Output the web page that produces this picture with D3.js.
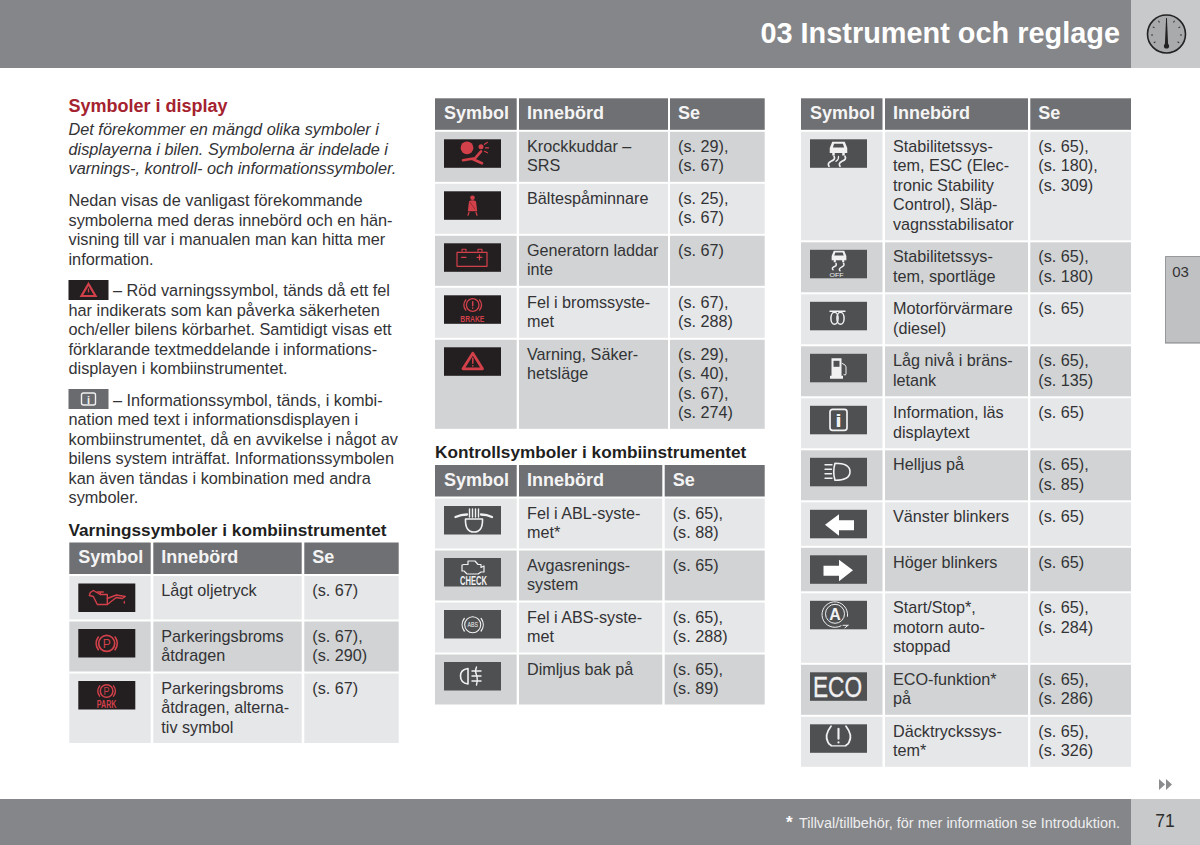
<!DOCTYPE html>
<html>
<head>
<meta charset="utf-8">
<script src="https://d3js.org/d3.v7.min.js"></script>
<style>
  html, body { margin: 0; padding: 0; background: #fff; }
  svg { display: block; }
  text { font-family: "Liberation Sans", Arial, sans-serif; }
</style>
</head>
<body>
<svg id="page" width="1200" height="845"></svg>
<script>
// page text
const introHead = 'Symboler i display';
const introItalic = ['Det förekommer en mängd olika symboler i', 'displayerna i bilen. Symbolerna är indelade i', 'varnings-, kontroll- och informationssymboler.'];
const introBody = ['Nedan visas de vanligast förekommande', 'symbolerna med deras innebörd och en hän-', 'visning till var i manualen man kan hitta mer', 'information.'];
const redPara = ['– Röd varningssymbol, tänds då ett fel', 'har indikerats som kan påverka säkerheten', 'och/eller bilens körbarhet. Samtidigt visas ett', 'förklarande textmeddelande i informations-', 'displayen i kombiinstrumentet.'];
const infoPara = ['– Informationssymbol, tänds, i kombi-', 'nation med text i informationsdisplayen i', 'kombiinstrumentet, då en avvikelse i något av', 'bilens system inträffat. Informationssymbolen', 'kan även tändas i kombination med andra', 'symboler.'];
const warnTitle = 'Varningssymboler i kombiinstrumentet';
const ctrlTitle = 'Kontrollsymboler i kombiinstrumentet';
const columnHeads = ['Symbol', 'Innebörd', 'Se'];

// left table
const warnIcons = ['oil', 'parkBrake', 'parkAlt'];
const warnMeaning = [['Lågt oljetryck'], ['Parkeringsbroms', 'åtdragen'], ['Parkeringsbroms', 'åtdragen, alterna-', 'tiv symbol']];
const warnPages = [['(s. 67)'], ['(s. 67),', '(s. 290)'], ['(s. 67)']];

// middle table, top
const redIcons = ['airbag', 'belt', 'battery', 'brake', 'triangle'];
const redMeaning = [['Krockkuddar –', 'SRS'], ['Bältespåminnare'], ['Generatorn laddar', 'inte'], ['Fel i bromssyste-', 'met'], ['Varning, Säker-', 'hetsläge']];
const redPages = [['(s. 29),', '(s. 67)'], ['(s. 25),', '(s. 67)'], ['(s. 67)'], ['(s. 67),', '(s. 288)'], ['(s. 29),', '(s. 40),', '(s. 67),', '(s. 274)']];

// middle table, bottom
const ctrlIcons = ['abl', 'check', 'abs', 'fog'];
const ctrlMeaning = [['Fel i ABL-syste-', 'met*'], ['Avgasrenings-', 'system'], ['Fel i ABS-syste-', 'met'], ['Dimljus bak på']];
const ctrlPages = [['(s. 65),', '(s. 88)'], ['(s. 65)'], ['(s. 65),', '(s. 288)'], ['(s. 65),', '(s. 89)']];

// right table
const miscIcons = ['esc', 'escOff', 'glow', 'fuel', 'info', 'highBeam', 'left', 'right', 'startStop', 'eco', 'tyre'];
const miscMeaning = [['Stabilitetssys-', 'tem, ESC (Elec-', 'tronic Stability', 'Control), Släp-', 'vagnsstabilisator'], ['Stabilitetssys-', 'tem, sportläge'], ['Motorförvärmare', '(diesel)'], ['Låg nivå i bräns-', 'letank'], ['Information, läs', 'displaytext'], ['Helljus på'], ['Vänster blinkers'], ['Höger blinkers'], ['Start/Stop*,', 'motorn auto-', 'stoppad'], ['ECO-funktion*', 'på'], ['Däcktryckssys-', 'tem*']];
const miscPages = [['(s. 65),', '(s. 180),', '(s. 309)'], ['(s. 65),', '(s. 180)'], ['(s. 65)'], ['(s. 65),', '(s. 135)'], ['(s. 65)'], ['(s. 65),', '(s. 85)'], ['(s. 65)'], ['(s. 65)'], ['(s. 65),', '(s. 284)'], ['(s. 65),', '(s. 286)'], ['(s. 65),', '(s. 326)']];

const barDark = '#858689';
const barLight = '#c8c9cb';
const headFill = '#6f7073';
const rowLight = '#e6e7e8';
const rowDark = '#d1d3d4';
const ink = '#333336';
const red = '#d2404a';
const iconBlack = '#231f20';
const iconGrey = '#4f5052';
const white = '#f1f1f2';
const lineH = 19.5;
const bodySize = 16.3;
const cellSize = 16.2;

const svg = d3.select('#page');

// row pitch follows the number of text lines, one-liners stop at icon height
const rowPitch = d3.scaleLinear().domain([2, 5]).range([52, 110.5]);
const pitchOf = n => Math.max(45.5, rowPitch(n));

function textLines(parent, lines, x, y, opts = {}) {
    parent.selectAll(null)
        .data(lines)
        .enter()
        .append('text')
        .attr('x', (d, i) => i === 0 && opts.firstX ? opts.firstX : x)
        .attr('y', (d, i) => y + i * lineH)
        .attr('fill', opts.fill || ink)
        .attr('font-size', opts.size || bodySize)
        .attr('font-style', opts.italic ? 'italic' : null)
        .text(d => d);
}

// bars at top and bottom
svg.append('rect').attr('x', 0).attr('y', 0).attr('width', 1131).attr('height', 68).attr('fill', barDark);
svg.append('rect').attr('x', 1131).attr('y', 0).attr('width', 69).attr('height', 68).attr('fill', barLight);
svg.append('rect').attr('x', 0).attr('y', 799).attr('width', 1131).attr('height', 46).attr('fill', barDark);
svg.append('rect').attr('x', 1131).attr('y', 799).attr('width', 69).attr('height', 46).attr('fill', barLight);

svg.append('text')
    .attr('x', 1120).attr('y', 42.5)
    .attr('text-anchor', 'end')
    .attr('font-size', 28.9).attr('font-weight', 'bold')
    .attr('fill', '#fff')
    .text('03 Instrument och reglage');

// gauge in the corner
const gauge = svg.append('g').attr('transform', 'translate(1166.5,34)');
gauge.append('circle').attr('r', 19).attr('fill', '#a9aaac').attr('stroke', '#222').attr('stroke-width', 1.6);
const tickAngle = d3.scaleLinear().domain([0, 8]).range([-125, 125]);
gauge.selectAll('line.tick')
    .data(d3.range(9))
    .enter()
    .append('line')
    .attr('y1', -15.5).attr('y2', -13.5)
    .attr('stroke', '#333').attr('stroke-width', 1)
    .attr('transform', d => `rotate(${tickAngle(d)})`);
gauge.append('path').attr('d', 'M-0.4,-16L0.4,-16L1.6,10L-1.6,10Z').attr('fill', '#222');
gauge.append('circle').attr('cy', 12).attr('r', 2.6).attr('fill', '#222');

// footer
svg.append('text')
    .attr('x', 1120).attr('y', 827.5)
    .attr('text-anchor', 'end')
    .attr('font-size', 14.4)
    .attr('fill', '#eeeeef')
    .text('Tillval/tillbehör, för mer information se Introduktion.');
svg.append('text')
    .attr('x', 786).attr('y', 828)
    .attr('font-size', 17).attr('font-weight', 'bold')
    .attr('fill', '#fff')
    .text('*');
svg.append('text')
    .attr('x', 1165).attr('y', 827)
    .attr('text-anchor', 'middle')
    .attr('font-size', 17.5)
    .attr('fill', '#2e2e2e')
    .text('71');
svg.selectAll('path.more')
    .data([1159, 1166])
    .enter()
    .append('path')
    .attr('d', d => `M${d},779l6,5.5l-6,5.5Z`)
    .attr('fill', '#8a8c8e');

// chapter tab
svg.append('rect').attr('x', 1165).attr('y', 256).attr('width', 35).attr('height', 87).attr('fill', '#c0c1c3');
svg.append('path').attr('d', 'M1200,256.5H1165.5V343').attr('fill', 'none').attr('stroke', '#97989a').attr('stroke-width', 1);
svg.append('path').attr('d', 'M1165,343H1200').attr('stroke', '#808285').attr('stroke-width', 1.2);
svg.append('text').attr('x', 1180.5).attr('y', 276.5).attr('text-anchor', 'middle')
    .attr('font-size', 15).attr('fill', ink).text('03');

// left column text
svg.append('text').attr('x', 68.5).attr('y', 112).attr('font-size', 18).attr('font-weight', 'bold')
    .attr('fill', '#a5222f').text(introHead);
textLines(svg, introItalic, 68.5, 135, { italic: true });
textLines(svg, introBody, 68.5, 206);
textLines(svg, redPara, 68.5, 296, { firstX: 113 });
textLines(svg, infoPara, 68.5, 405.5, { firstX: 113 });

function miniBox(y, fill) {
    const g = svg.append('g').attr('transform', `translate(68.5,${y})`);
    g.append('rect').attr('width', 40).attr('height', 20).attr('fill', fill);
    return g;
}
const boxRed = miniBox(280, iconBlack);
boxRed.append('path').attr('d', 'M20,4L27,16L13,16Z').attr('fill', 'none').attr('stroke', red).attr('stroke-width', 2.2);
boxRed.append('path').attr('d', 'M20,8.5V12.5').attr('stroke', red).attr('stroke-width', 1.3);
const boxInfo = miniBox(389, '#6a6b6e');
boxInfo.append('rect').attr('x', 13).attr('y', 4).attr('width', 14).attr('height', 12).attr('rx', 2)
    .attr('fill', 'none').attr('stroke', white).attr('stroke-width', 1.4);
boxInfo.append('text').attr('x', 20).attr('y', 14.5).attr('text-anchor', 'middle')
    .attr('font-size', 11).attr('font-weight', 'bold').attr('fill', white).text('i');

svg.append('text').attr('x', 68.5).attr('y', 535.5).attr('font-size', 17.2).attr('font-weight', 'bold').attr('fill', '#1f1f1f').text(warnTitle);
svg.append('text').attr('x', 435).attr('y', 458).attr('font-size', 17.2).attr('font-weight', 'bold').attr('fill', '#1f1f1f').text(ctrlTitle);

// symbols, drawn on a 57 x 28 plate
const line = (g, d, c, w) => g.append('path').attr('d', d).attr('fill', 'none').attr('stroke', c).attr('stroke-width', w).attr('stroke-linecap', 'round').attr('stroke-linejoin', 'round');
const solid = (g, d, c) => g.append('path').attr('d', d).attr('fill', c);
const ring = (g, cx, cy, r, c, w) => g.append('circle').attr('cx', cx).attr('cy', cy).attr('r', r).attr('fill', 'none').attr('stroke', c).attr('stroke-width', w);
const label = (g, t, x, y, size, len, c, weight) => g.append('text')
    .attr('x', x).attr('y', y).attr('text-anchor', 'middle')
    .attr('font-size', size).attr('font-weight', weight || 'bold')
    .attr('textLength', len).attr('lengthAdjust', 'spacingAndGlyphs')
    .attr('fill', c).text(t);
const brakeArcs = (g, cx, cy, r, c, w) => {
    line(g, `M${cx - r},${cy - r * 0.75}A${r * 1.25},${r * 1.25} 0 0 0 ${cx - r},${cy + r * 0.75}`, c, w);
    line(g, `M${cx + r},${cy - r * 0.75}A${r * 1.25},${r * 1.25} 0 0 1 ${cx + r},${cy + r * 0.75}`, c, w);
};
const car = (g, cx, top, s) => {
    const c = g.append('g').attr('transform', `translate(${cx},${top}) scale(${s})`);
    solid(c, 'M-5,0H5L7,5V9H5V11H3V9H-3V11H-5V9H-7V5Z', white);
    solid(c, 'M-3.5,1.5H3.5L4.5,4.5H-4.5Z', iconGrey);
};

const iconDraw = {
    oil(g) {
        line(g, 'M12,9L15,7L22,11L29,11V21H19L15,13L11,12Z', red, 1.4);
        line(g, 'M22,11V8.5M19,8.5H25', red, 1.4);
        line(g, 'M29,15L38,11.5L47,13L44,15L38,14L29,21', red, 1.4);
        solid(g, 'M46,17q1.6,2.4 0,3.4q-1.6,-1 0,-3.4Z', red);
    },
    parkBrake(g) {
        ring(g, 28.4, 14.4, 8, red, 1.7);
        brakeArcs(g, 28.4, 14.4, 8.4, red, 1.7);
        label(g, 'P', 28.4, 19, 13, 8, red, 'normal');
    },
    parkAlt(g) {
        ring(g, 28.3, 10, 6.3, red, 1.5);
        brakeArcs(g, 28.3, 10, 6.9, red, 1.4);
        label(g, 'P', 28.3, 13.6, 10, 6, red, 'normal');
        label(g, 'PARK', 28.3, 26.8, 11, 19.5, red);
    },
    airbag(g) {
        g.append('circle').attr('cx', 23).attr('cy', 8.5).attr('r', 6.4).attr('fill', red);
        g.append('circle').attr('cx', 37).attr('cy', 7.5).attr('r', 2.5).attr('fill', red);
        line(g, 'M37,12L31,19L19,21M29,20L38,24', red, 2.6);
        line(g, 'M40.5,5l3,-2M41.5,8.5l3,0M40.5,12l3,1.5', red, 1.2);
    },
    belt(g) {
        g.append('circle').attr('cx', 28.5).attr('cy', 6.5).attr('r', 2.3).attr('fill', red);
        solid(g, 'M25,10Q28.5,7.8 32,10L33.2,20H23.8Z', red);
        line(g, 'M25,21L24,24M32,21L33,24', red, 1.2);
        line(g, 'M26,11L31,18', '#8c2a30', 0.8);
    },
    battery(g) {
        line(g, 'M13,9H43V23H13Z', red, 1.2);
        line(g, 'M18,8V6H22V8M34,8V6H38V8', red, 1.1);
        line(g, 'M17.5,14H22', red, 1.2);
        line(g, 'M33,14H38M35.5,11.5V16.5', red, 1.2);
    },
    brake(g) {
        ring(g, 28.7, 9.7, 6.3, red, 1.3);
        brakeArcs(g, 28.7, 9.7, 6.9, red, 1.3);
        line(g, 'M28.7,6.5V10.5M28.7,12.8V13', red, 1.5);
        label(g, 'BRAKE', 28.3, 27, 9, 24, red);
    },
    triangle(g) {
        line(g, 'M28.8,6L38.5,21.5H19Z', red, 2.8);
        line(g, 'M28.8,11V16M28.8,18.4V18.6', red, 1.5);
    },
    abl(g) {
        line(g, 'M11.5,11Q17,8.5 23,8.5M37,8.5Q43,8.5 48,11', white, 2.3);
        line(g, 'M25.5,3V11M28.5,3V11M31.5,3V11M34.5,3V11', white, 1.4);
        line(g, 'M21.5,13H38.5Q39,26 30,26Q21,26 21.5,13Z', white, 1.6);
    },
    check(g) {
        line(g, 'M20,6.5H24V3H31L34,6.5H37V9.5L40,8V14H37L34,16H23L20,13H18V7Z', white, 1.2);
        label(g, 'CHECK', 29.5, 27, 12.5, 27, white);
    },
    abs(g) {
        ring(g, 28.7, 14.7, 8, white, 1.1);
        brakeArcs(g, 28.7, 14.7, 8.4, white, 1.3);
        label(g, 'ABS', 28.7, 17.2, 7, 10.5, white, 'normal');
    },
    fog(g) {
        line(g, 'M24,6.5V22Q16.5,21 16.5,14Q16.5,7.5 24,6.5Z', white, 1.6);
        line(g, 'M28,9H37M28,14H37M28,19H37', white, 1.4);
        line(g, 'M32.5,5Q30.5,9 32.5,13Q34,17 32.5,23', white, 1.4);
    },
    esc(g) {
        car(g, 28.5, 2.5, 1.25);
        line(g, 'M19,27Q17,24 21,22Q26,20 24,17', white, 1.7);
        line(g, 'M30,27Q28,24 32,22Q37,20 35,17', white, 1.7);
        line(g, 'M26,22Q29,20 28.5,17', white, 1.2);
    },
    escOff(g) {
        car(g, 29, 1, 1.05);
        line(g, 'M23,20Q21,18 25,16.5Q27,15.5 26,13.5', white, 1.5);
        line(g, 'M30,21Q28,19 32,17Q35,15.5 33.5,13.5', white, 1.5);
        label(g, 'OFF', 26.5, 27, 6.2, 14, white, 'normal');
    },
    glow(g) {
        line(g, 'M20,9.5H35', white, 1.4);
        g.append('ellipse').attr('cx', 24.5).attr('cy', 16.5).attr('rx', 3.6).attr('ry', 6).attr('fill', 'none').attr('stroke', white).attr('stroke-width', 1.5);
        g.append('ellipse').attr('cx', 30.5).attr('cy', 16.5).attr('rx', 3.6).attr('ry', 6).attr('fill', 'none').attr('stroke', white).attr('stroke-width', 1.5);
    },
    fuel(g) {
        solid(g, 'M21.5,4.5H31.5V22H33V25H20V22H21.5Z', white);
        solid(g, 'M23.5,7H29.5V13H23.5Z', iconGrey);
        line(g, 'M32,9.5Q36,11 36,13V20Q36,22 34,21', white, 1);
    },
    info(g) {
        g.append('rect').attr('x', 20).attr('y', 3.5).attr('width', 17).attr('height', 21).attr('rx', 2.5)
            .attr('fill', 'none').attr('stroke', white).attr('stroke-width', 1.7);
        label(g, 'i', 28.5, 21.5, 19, 6.5, white);
    },
    highBeam(g) {
        line(g, 'M25,5.5Q40,5.5 40,14Q40,22.5 25,22.5Q22.5,14 25,5.5Z', white, 1.6);
        line(g, 'M15,7H22M15,11.5H21.5M15,16H21.5M15,20.5H22', white, 1.4);
    },
    left(g) {
        solid(g, 'M15,15L29,4.5V10.5H44V20.5H29V26Z', '#fff');
    },
    right(g) {
        solid(g, 'M43,15L29,4.5V10.5H13.5V20.5H29V26Z', '#fff');
    },
    startStop(g) {
        ring(g, 25, 13, 9.5, white, 1);
        line(g, 'M31,25A12.8,12.8 0 1 1 37.5,15.5', white, 1);
        line(g, 'M33,24.5H38M38,24.5L35,27', white, 1);
        label(g, 'A', 25, 19, 16, 11.5, white);
    },
    eco(g) {
        label(g, 'ECO', 27.5, 24.5, 29, 49, white, 'normal')
            .attr('font-family', 'Roboto, sans-serif')
            .attr('stroke', white).attr('stroke-width', 0.3);
    },
    tyre(g) {
        line(g, 'M21,2Q14,11 18,18Q19,20 21,21M36,21Q38,20 39,18Q43,11 36,2', white, 1.8);
        line(g, 'M21,21.5H36', white, 1.2);
        line(g, 'M28.5,4.5V14.5M28.5,18V18.2', white, 2.1);
    }
};

const plateFill = d3.scaleOrdinal()
    .domain(['oil', 'parkBrake', 'parkAlt', 'airbag', 'belt', 'battery', 'brake', 'triangle'])
    .range(d3.range(8).map(() => iconBlack))
    .unknown(iconGrey);

function drawTable(top, cols, icons, meaning, pages, firstLight) {
    const x = cols.map(c => c[0]);
    const w = cols.map(c => c[1] - c[0]);
    const t = svg.append('g');

    // header row
    t.selectAll('rect.head')
        .data(columnHeads)
        .enter()
        .append('rect')
        .attr('x', (d, i) => x[i])
        .attr('y', top)
        .attr('width', (d, i) => w[i])
        .attr('height', 31.5)
        .attr('fill', headFill);
    t.selectAll('text.head')
        .data(columnHeads)
        .enter()
        .append('text')
        .attr('x', (d, i) => x[i] + (i === 0 ? 9 : 8))
        .attr('y', top + 20.7)
        .attr('font-size', 18).attr('font-weight', 'bold')
        .attr('fill', '#f4f4f5')
        .text(d => d);

    const rows = d3.zip(icons, meaning, pages).map(r => ({ icon: r[0], meaning: r[1], pages: r[2] }));
    const pitches = rows.map(r => pitchOf(Math.max(r.meaning.length, r.pages.length)));
    const starts = [0, ...d3.cumsum(pitches)];
    const rowFill = i => (i % 2 === 0) === firstLight ? rowLight : rowDark;

    rows.forEach((r, i) => {
        const y = top + 33.5 + starts[i];
        x.forEach((cx, k) => {
            t.append('rect')
                .attr('x', cx).attr('y', y)
                .attr('width', w[k]).attr('height', pitches[i] - 2)
                .attr('fill', rowFill(i));
        });
        const plate = t.append('g').attr('transform', `translate(${x[0] + 9},${y + 7.5})`);
        plate.append('rect').attr('width', 57).attr('height', 28.5).attr('fill', plateFill(r.icon));
        iconDraw[r.icon](plate);
        textLines(t, r.meaning, x[1] + 8, y + 20, { size: cellSize });
        textLines(t, r.pages, x[2] + 8, y + 20, { size: cellSize });
    });
}

drawTable(542.5, [[69.3, 150.7], [153.3, 301.7], [304.3, 398.7]], warnIcons, warnMeaning, warnPages, true);
drawTable(98.3, [[435, 516.7], [519, 668], [670, 764.7]], redIcons, redMeaning, redPages, false);
drawTable(465, [[435, 516.7], [519, 662.3], [664.7, 764.7]], ctrlIcons, ctrlMeaning, ctrlPages, true);
drawTable(98.3, [[801, 882.5], [885, 1028], [1030.3, 1131]], miscIcons, miscMeaning, miscPages, true);
</script>
</body>
</html>
